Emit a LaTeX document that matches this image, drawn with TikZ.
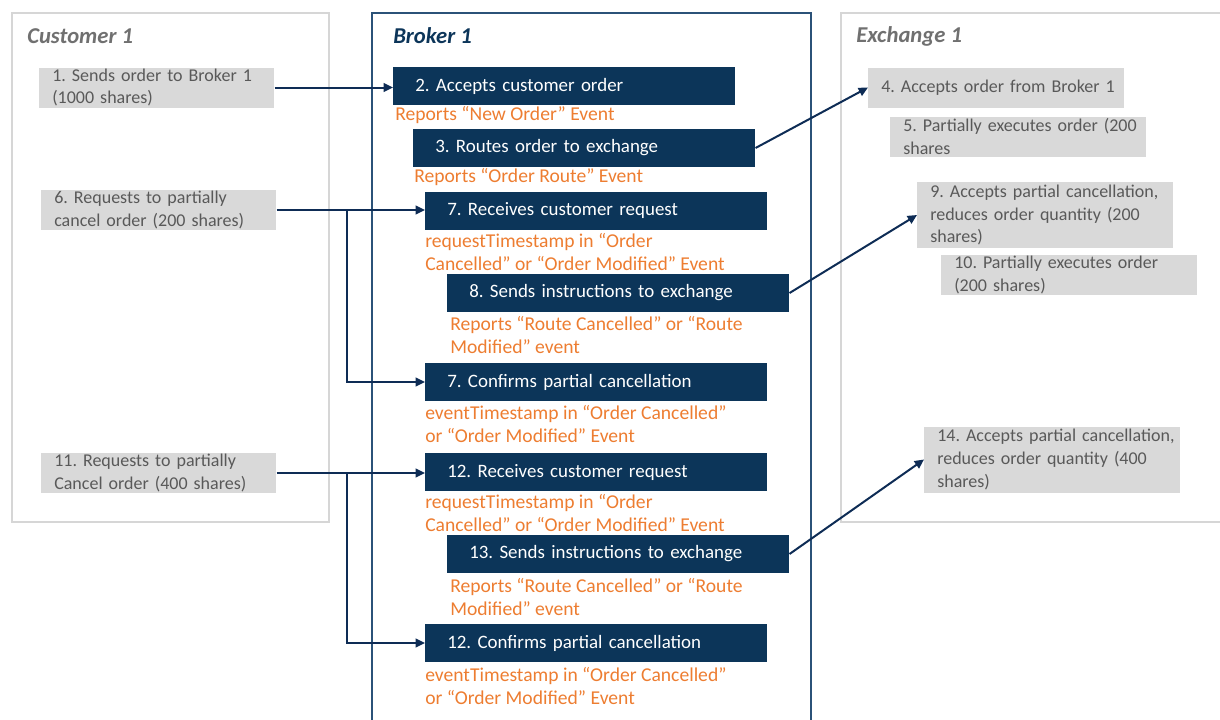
\documentclass[tikz,border=0pt]{standalone}
\usepackage{fontspec}
\setmainfont{Carlito}
\usetikzlibrary{arrows.meta}
\definecolor{navy}{HTML}{0C3559}
\definecolor{frameblue}{HTML}{2B5278}
\definecolor{arrownavy}{HTML}{0E2C55}
\definecolor{boxgray}{HTML}{D9D9D9}
\definecolor{txtgray}{HTML}{595959}
\definecolor{titlegray}{HTML}{707070}
\definecolor{framegray}{HTML}{D6D6D6}
\definecolor{orng}{HTML}{ED7D31}
\frenchspacing
\hyphenpenalty=10000
\exhyphenpenalty=10000
\begin{document}
\begin{tikzpicture}[x=0.75pt,y=-0.75pt,font=\fontsize{14.2}{17.25}\selectfont,
 dbox/.style={fill=navy,text=white,anchor=west,inner xsep=16.5pt,inner ysep=0pt,text width=223.5pt,minimum height=28.5pt,align=left},
 gbox/.style={fill=boxgray,text=txtgray,anchor=west,inner xsep=9.75pt,inner ysep=0pt,align=left,minimum height=30pt,font=\fontsize{13.5}{17}\selectfont},
 cbox/.style={gbox,text width=156.75pt},
 xbox/.style={gbox,text width=172.5pt},
 note/.style={text=orng,anchor=west,inner sep=0pt,align=left,font=\fontsize{14.7}{17.25}\selectfont},
 ttl/.style={font=\fontsize{17}{20}\selectfont\bfseries\itshape,anchor=west,inner sep=0pt},
 arr/.style={draw=arrownavy,line width=1.5pt,-{Triangle[length=7pt,width=6.5pt]}}
]
\useasboundingbox (0,0) rectangle (1220,719);
\clip (0,0) rectangle (1220,719);
% frames
\draw[framegray,line width=1.5pt] (12,13) rectangle (329,522);
\draw[frameblue,line width=1.5pt] (372,730) -- (372,13) -- (811,13) -- (811,730);
\draw[framegray,line width=1.5pt] (1230,13) -- (841,13) -- (841,522) -- (1230,522);
% titles
\node[ttl,text=titlegray] (tc) at (27,36) {Customer 1};
\node[ttl,text=navy] (tb) at (393,36) {Broker 1};
\node[ttl,text=titlegray] (te) at (856,36) {Exchange 1};
% customer boxes
\node[cbox] (c1) at (39,87.5) {\mbox{1. Sends order to Broker 1}\\(1000 shares)};
\node[cbox] (c6) at (41,210) {\mbox{6. Requests to partially}\\\mbox{cancel order (200 shares)}};
\node[cbox] (c11) at (41,473) {\mbox{11. Requests to partially}\\\mbox{Cancel order (400 shares)}};
% broker boxes
\node[dbox] (b2) at (393,86) {2. Accepts customer order};
\node[dbox] (b3) at (413,148) {3. Routes order to exchange};
\node[dbox] (b7a) at (425,211) {7. Receives customer request};
\node[dbox] (b8) at (447,293) {8. Sends instructions to exchange};
\node[dbox] (b7b) at (425,382) {7. Confirms partial cancellation};
\node[dbox] (b12a) at (425,472) {12. Receives customer request};
\node[dbox] (b13) at (447,554) {13. Sends instructions to exchange};
\node[dbox] (b12b) at (425,643) {12. Confirms partial cancellation};
% notes
\node[note] (n2) at (395,115) {Reports “New Order” Event};
\node[note] (n3) at (414,177) {Reports “Order Route” Event};
\node[note] (n7a) at (425,251.5) {requestTimestamp in “Order\\Cancelled” or “Order Modified” Event};
\node[note] (n8) at (450,335) {Reports “Route Cancelled” or “Route\\Modified” event};
\node[note] (n7b) at (425,424) {eventTimestamp in “Order Cancelled”\\or “Order Modified” Event};
\node[note] (n12a) at (425,512.5) {requestTimestamp in “Order\\Cancelled” or “Order Modified” Event};
\node[note] (n13) at (450,597) {Reports “Route Cancelled” or “Route\\Modified” event};
\node[note] (n12b) at (425,686) {eventTimestamp in “Order Cancelled”\\or “Order Modified” Event};
% exchange boxes
\node[xbox] (e4) at (868,87.5) {\mbox{4. Accepts order from Broker 1}};
\node[xbox] (e5) at (890,136.5) {\mbox{5. Partially executes order (200}\\shares};
\node[xbox,minimum height=49.5pt] (e9) at (917,215) {\mbox{9. Accepts partial cancellation,}\\\mbox{reduces order quantity (200}\\shares)};
\node[xbox] (e10) at (941,275) {\mbox{10. Partially executes order}\\(200 shares)};
\node[xbox,minimum height=49.5pt] (e14) at (924,459.5) {\mbox{14. Accepts partial cancellation,}\\\mbox{reduces order quantity (400}\\shares)};
% connectors
\draw[arr] (c1.east) -- (c1.east -| b2.west);
\draw[arr] (b3.east) -- (e4.west);
\draw[arr] (c6.east) -- (c6.east -| b7a.west);
\path (c6.east) ++(70,0) coordinate (j1);
\draw[arr] (j1) |- (b7b.west);
\draw[arr] (b8.east) -- (e9.west);
\draw[arr] (c11.east) -- (c11.east -| b12a.west);
\path (c11.east) ++(70,0) coordinate (j2);
\draw[arr] (j2) |- (b12b.west);
\draw[arr] (b13.east) -- (e14.west);
\end{tikzpicture}
\end{document}
